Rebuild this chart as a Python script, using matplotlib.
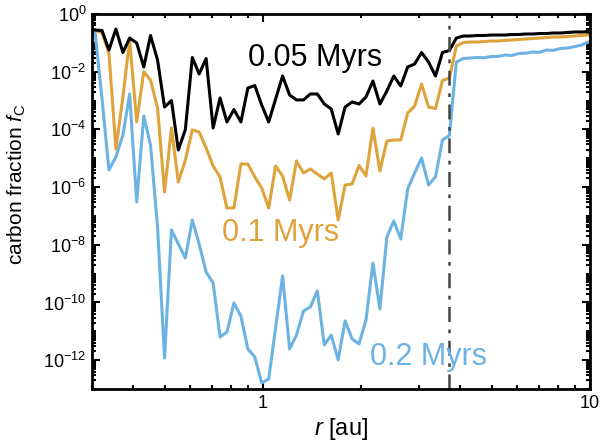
import matplotlib
matplotlib.use("Agg")
import matplotlib.pyplot as plt
from matplotlib.ticker import LogLocator, NullFormatter, FixedLocator
import numpy as np

plt.rcParams['font.family'] = ['Liberation Sans', 'DejaVu Sans']
plt.rcParams['mathtext.fontset'] = 'custom'
plt.rcParams['mathtext.rm'] = 'Liberation Sans'
plt.rcParams['mathtext.it'] = 'Liberation Sans:italic'
plt.rcParams['axes.unicode_minus'] = False

# radial grid [au]
r = [0.306, 0.322, 0.338, 0.355, 0.373, 0.391, 0.411, 0.432, 0.453, 0.476,
     0.500, 0.525, 0.551, 0.579, 0.608, 0.638, 0.670, 0.704, 0.739, 0.776,
     0.815, 0.856, 0.899, 0.944, 0.991, 1.041, 1.093, 1.148, 1.206, 1.266,
     1.330, 1.396, 1.466, 1.540, 1.617, 1.698, 1.783, 1.873, 1.967, 2.065,
     2.169, 2.278, 2.392, 2.512, 2.638, 2.770, 2.909, 3.055, 3.208, 3.369,
     3.538, 3.715, 3.902, 4.097, 4.303, 4.519, 4.745, 4.983, 5.233, 5.495,
     5.771, 6.060, 6.364, 6.683, 7.018, 7.370, 7.740, 8.128, 8.535, 8.963,
     9.413, 9.886]

# carbon fraction at 0.05 Myrs
f_005 = [0.279, 0.268, 0.0565, 0.302, 0.0463, 0.147, 0.0989, 0.01456, 0.180, 0.0255,
         5.97e-4, 1.00e-3, 1.93e-5, 9.93e-5, 0.0311, 8.32e-3, 0.0287, 1.12e-4, 1.23e-3, 1.81e-4,
         4.90e-4, 1.81e-4, 2.72e-3, 3.32e-3, 7.01e-4, 1.81e-4, 1.13e-3, 7.10e-3, 1.56e-3, 1.05e-3,
         1.05e-3, 1.69e-3, 1.69e-3, 7.59e-4, 5.09e-4, 6.93e-5, 5.97e-4, 8.91e-4, 7.59e-4, 1.33e-3,
         4.76e-3, 7.59e-4, 2.14e-3, 7.10e-3, 3.19e-3, 0.01456, 0.0185, 0.0463, 0.0217, 7.10e-3,
         0.0463, 0.0543, 0.147, 0.173, 0.173, 0.180, 0.180, 0.187, 0.187, 0.187,
         0.195, 0.195, 0.203, 0.203, 0.211, 0.211, 0.220, 0.220, 0.229, 0.238,
         0.238, 0.247]

# carbon fraction at 0.1 Myrs
f_01 = [0.279, 0.220, 0.0445, 2.09e-5, 1.33e-3, 0.126, 1.85e-4, 1.00e-2, 5.16e-3, 5.52e-4,
        6.76e-7, 1.12e-4, 1.50e-6, 8.69e-6, 9.53e-5, 8.13e-5, 2.26e-5, 5.38e-6, 2.24e-6, 1.89e-7,
        1.89e-7, 6.32e-6, 6.32e-6, 2.24e-6, 9.31e-7, 1.89e-7, 5.38e-6, 2.43e-6, 3.57e-7, 8.03e-6,
        3.08e-6, 4.24e-6, 2.84e-6, 1.91e-6, 3.08e-6, 7.24e-8, 1.18e-6, 1.28e-6, 5.61e-6, 2.43e-6,
        1.12e-4, 3.61e-6, 3.96e-5, 4.29e-5, 4.29e-5, 3.70e-4, 6.47e-4, 3.75e-3, 5.97e-4, 5.30e-4,
        4.95e-3, 6.05e-3, 0.0778, 0.103, 0.107, 0.107, 0.111, 0.116, 0.116, 0.121,
        0.126, 0.131, 0.136, 0.142, 0.147, 0.153, 0.160, 0.160, 0.166, 0.173,
        0.180, 0.187]

# carbon fraction at 0.2 Myrs
f_02 = [0.279, 1.13e-3, 3.92e-6, 1.10e-5, 6.40e-5, 1.69e-3, 3.05e-7, 2.91e-4, 2.88e-5, 4.14e-8,
        1.19e-12, 3.26e-8, 1.07e-8, 3.49e-9, 7.24e-8, 1.07e-8, 1.14e-9, 4.74e-10, 6.37e-12, 9.48e-12,
        9.62e-11, 3.40e-11, 2.44e-12, 1.29e-12, 1.62e-13, 2.23e-13, 1.31e-11, 8.30e-10, 2.44e-12, 7.46e-12,
        5.07e-11, 6.98e-11, 2.51e-10, 3.36e-12, 7.46e-12, 1.02e-12, 2.29e-11, 5.43e-12, 3.65e-12, 2.47e-11,
        2.34e-9, 5.96e-11, 1.86e-8, 6.68e-8, 1.59e-8, 8.59e-7, 3.08e-6, 1.02e-5, 1.18e-6, 2.24e-6,
        4.29e-5, 6.15e-5, 0.0217, 0.0287, 0.0299, 0.0311, 0.0305, 0.0335, 0.0340, 0.0379,
        0.0365, 0.0430, 0.0440, 0.0482, 0.0470, 0.0565, 0.0550, 0.0640, 0.0663, 0.0740,
        0.0840, 0.107]

r_line = 3.7
c_black = '#000000'
c_orange = '#DEA33A'
c_blue = '#6CB2E2'

fig = plt.figure(figsize=(6.06, 4.45), dpi=100)
ax = fig.add_axes([0.1518, 0.1258, 0.8218, 0.8427])

ax.plot(r, f_02, color=c_blue, lw=2.2)
ax.plot(r, f_01, color=c_orange, lw=2.2)
ax.plot(r, f_005, color=c_black, lw=2.2)
ax.axvline(r_line, color='#444444', lw=1.8, ls=(0, (6, 3, 1.5, 3)))

ax.set_xscale('log')
ax.set_yscale('log')
ax.set_xlim(0.3, 10)
ax.set_ylim(1e-13, 1)

ax.set_yticks([10.0**k for k in range(0, -13, -2)])
ax.yaxis.set_minor_locator(LogLocator(base=10, subs=np.arange(1, 10), numticks=100))
ax.yaxis.set_minor_formatter(NullFormatter())
ax.set_xticks([1, 10])
ax.set_xticklabels(['1', '10'])
ax.xaxis.set_minor_locator(FixedLocator([0.3, 0.4, 0.5, 0.6, 0.7, 0.8, 0.9, 2, 3, 4, 5, 6, 7, 8, 9]))
ax.xaxis.set_minor_formatter(NullFormatter())

ax.tick_params(which='both', direction='in', top=True, right=True, labelsize=13, width=1.5)
ax.tick_params(which='major', length=6, pad=4)
ax.tick_params(which='minor', length=3)
for sp in ax.spines.values():
    sp.set_linewidth(2)

ax.set_ylabel(r'carbon fraction $f_{\mathrm{C}}$', fontsize=15)
ax.yaxis.set_label_coords(-0.128, 0.545)
ax.set_xlabel(r'$r$ [au]', fontsize=17, labelpad=3)

ax.text(0.313, 0.883, '0.05 Myrs', transform=ax.transAxes, color=c_black, fontsize=22,
        ha='left', va='center')
ax.text(0.261, 0.415, '0.1 Myrs', transform=ax.transAxes, color=c_orange, fontsize=22,
        ha='left', va='center')
ax.text(0.558, 0.085, '0.2 Myrs', transform=ax.transAxes, color=c_blue, fontsize=22,
        ha='left', va='center')

fig.savefig('out.png', dpi=100)
